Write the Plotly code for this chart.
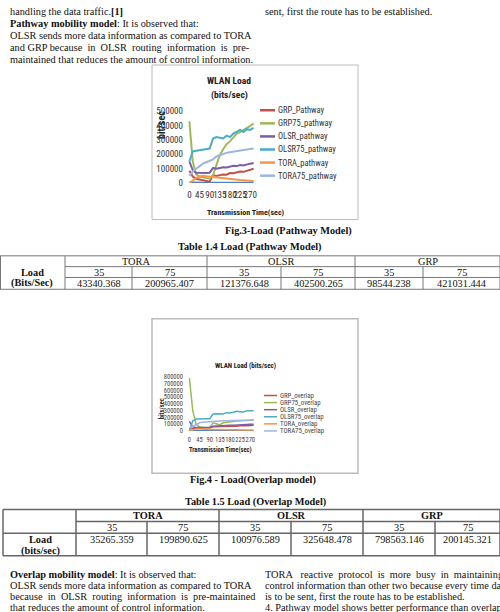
import plotly.graph_objects as go

W, H = 500, 612
def X(px): return px / W
def Y(py): return 1 - py / H

# ---------------- data ----------------
time_sec = [0, 15, 30, 45, 60, 75, 90, 105, 120, 135, 150, 165, 180, 195, 210, 225, 240, 255, 270, 285]
x_ticks = [0, 45, 90, 135, 180, 225, 270]

pathway_names = ["GRP_Pathway", "GRP75_pathway", "OLSR_pathway", "OLSR75_pathway", "TORA_pathway", "TORA75_pathway"]
grp_p = [85000, 45000, 30000, 25000, 20000, 15000, 10000, 55000, 50000, 55000, 60000, 58000, 70000, 68000, 75000, 80000, 78000, 85000, 88000, 100000]
grp75_p = [430000, 150000, 60000, 45000, 40000, 35000, 30000, 55000, 130000, 195000, 235000, 270000, 290000, 320000, 345000, 355000, 368000, 385000, 398000, 415000]
olsr_p = [150000, 90000, 72000, 70000, 70000, 70000, 72000, 105000, 100000, 105000, 110000, 108000, 115000, 120000, 118000, 125000, 122000, 130000, 135000, 140000]
olsr75_p = [150000, 220000, 225000, 230000, 235000, 235000, 240000, 310000, 320000, 315000, 310000, 330000, 320000, 345000, 360000, 370000, 355000, 375000, 370000, 385000]
tora_p = [0, 20000, 35000, 45000, 50000, 48000, 45000, 42000, 38000, 35000, 32000, 30000, 28000, 26000, 24000, 22000, 20000, 19000, 17000, 15000]
tora75_p = [50000, 80000, 100000, 120000, 135000, 145000, 155000, 165000, 185000, 195000, 205000, 210000, 215000, 220000, 225000, 228000, 230000, 233000, 236000, 240000]
base_p = [3000, 2000, 2500, 2000, 2500, 2000, 2000, 2500, 2000, 2000, 2500, 2000, 2000, 2500, 2000, 2000, 2500, 2000, 2000, 2000]

overlap_names = ["GRP_overlap", "GRP75_overlap", "OLSR_overlap", "OLSR75_overlap", "TORA_overlap", "TORA75_overlap"]
grp_o = [30000, 40000, 45000, 40000, 40000, 40000, 45000, 60000, 60000, 60000, 65000, 60000, 70000, 65000, 70000, 75000, 70000, 75000, 80000, 85000]
grp75_o = [780000, 300000, 100000, 60000, 50000, 50000, 45000, 120000, 110000, 90000, 120000, 130000, 135000, 140000, 145000, 150000, 150000, 155000, 160000, 160000]
olsr_o = [140000, 60000, 50000, 50000, 55000, 55000, 55000, 70000, 75000, 75000, 80000, 80000, 85000, 85000, 90000, 90000, 92000, 95000, 98000, 100000]
olsr75_o = [0, 150000, 175000, 180000, 180000, 180000, 180000, 250000, 255000, 250000, 250000, 270000, 265000, 275000, 290000, 285000, 280000, 300000, 295000, 300000]
tora_o = [0, 20000, 30000, 30000, 25000, 25000, 22000, 20000, 20000, 18000, 18000, 17000, 16000, 15000, 15000, 14000, 14000, 13000, 12000, 12000]
tora75_o = [40000, 70000, 100000, 120000, 130000, 135000, 140000, 140000, 145000, 145000, 150000, 150000, 150000, 155000, 155000, 155000, 160000, 160000, 160000, 165000]
base_o = [3000, 2000, 2500, 2000, 2500, 2000, 2000, 2500, 2000, 2000, 2500, 2000, 2000, 2500, 2000, 2000, 2500, 2000, 2000, 2000]

series_colors = ["#C0504D", "#9BBB59", "#7B5EA7", "#4BACC6", "#F79646", "#9EB5E0"]
base_color = "#4F81BD"

tbl_protocols = ["TORA", "OLSR", "GRP"]
tbl_nodes = ["35", "75", "35", "75", "35", "75"]
tbl1_vals = ["43340.368", "200965.407", "121376.648", "402500.265", "98544.238", "421031.444"]
tbl2_vals = ["35265.359", "199890.625", "100976.589", "325648.478", "798563.146", "200145.321"]

# ---------------- fonts ----------------
SERIF = "Liberation Serif, Times New Roman, serif"
NARROW = "Liberation Sans Narrow, Arial Narrow, Roboto Condensed, Liberation Sans, sans-serif"
BODY = 10.3

fig = go.Figure()

# chart 1 traces
fig.add_trace(go.Scatter(x=time_sec, y=base_p, mode="lines", line=dict(color=base_color, width=2),
                         showlegend=False, xaxis="x", yaxis="y"))
for name, vals, col in zip(pathway_names, [grp_p, grp75_p, olsr_p, olsr75_p, tora_p, tora75_p], series_colors):
    fig.add_trace(go.Scatter(x=time_sec, y=vals, name=name, mode="lines",
                             line=dict(color=col, width=2), showlegend=False, xaxis="x", yaxis="y"))
# chart 2 traces
fig.add_trace(go.Scatter(x=time_sec, y=base_o, mode="lines", line=dict(color=base_color, width=1.5),
                         showlegend=False, xaxis="x2", yaxis="y2"))
for name, vals, col in zip(overlap_names, [grp_o, grp75_o, olsr_o, olsr75_o, tora_o, tora75_o], series_colors):
    fig.add_trace(go.Scatter(x=time_sec, y=vals, name=name, mode="lines",
                             line=dict(color=col, width=1.5), showlegend=False, xaxis="x2", yaxis="y2"))

ann = []
shapes = []

def txt(x, y, s, size=BODY, family=SERIF, xanchor="left", color="#111", angle=0):
    ann.append(dict(x=X(x), y=Y(y), xref="paper", yref="paper", text=s, showarrow=False,
                    xanchor=xanchor, yanchor="middle", textangle=angle,
                    font=dict(family=family, size=size, color=color)))

def line(x0, y0, x1, y1, color="#777", width=1):
    shapes.append(dict(type="line", xref="paper", yref="paper", x0=X(x0), y0=Y(y0), x1=X(x1), y1=Y(y1),
                       line=dict(color=color, width=width)))

# ---------------- body text ----------------
txt(8, 7, "handling the data traffic.<b>[1]</b>")
txt(263, 7, "sent, first the route has to be established.")
txt(8, 19, "<b>Pathway mobility model</b>: It is observed that:")
txt(8, 31, "OLSR sends more data information as compared to TORA")
txt(8, 43, "and GRP because&nbsp; in&nbsp; OLSR&nbsp; routing&nbsp; information&nbsp; is&nbsp; pre-")
txt(8, 55, "maintained that reduces the amount of control information.")

# ---------------- chart 1 frame & text ----------------
shapes.append(dict(type="rect", xref="paper", yref="paper", x0=X(152), y0=Y(218), x1=X(358), y1=Y(61),
                   line=dict(color="#BBBBBB", width=1)))
txt(229, 77, "<b>WLAN Load</b>", size=9.5, family=NARROW, xanchor="center", color="#222")
txt(229, 91, "<b>(bits/sec)</b>", size=9.5, family=NARROW, xanchor="center", color="#222")
txt(161, 122, "<b>bit/sec</b>", size=10, family=NARROW, xanchor="center", color="#222", angle=-90)
txt(246, 211, "<b>Transmission Time(sec)</b>", size=8, family=NARROW, xanchor="center", color="#222")
for i, (name, col) in enumerate(zip(pathway_names, series_colors)):
    yy = 107 + i * 13.3
    line(260, yy, 275, yy, color=col, width=2.5)
    txt(276, yy, name, size=8.5, family=NARROW, color="#333")
txt(288, 230, "<b>Fig.3-Load (Pathway Model)</b>", xanchor="center")

# ---------------- table 1 ----------------
txt(250, 246, "<b>Table 1.4 Load (Pathway Model)</b>", xanchor="center")
T1 = dict(top=255, r1=266, r2=277, bot=289)
g1 = [65, 207, 355, 500]
s1 = [65, 132, 207, 281, 355, 423, 500]
line(0, T1["top"], 500, T1["top"])
line(65, T1["r1"], 500, T1["r1"])
line(65, T1["r2"], 500, T1["r2"])
line(0, T1["bot"], 500, T1["bot"])
line(0.5, T1["top"], 0.5, T1["bot"])
for gx in g1:
    line(gx, T1["top"], gx, T1["bot"])
for sx in [132, 281, 423]:
    line(sx, T1["r1"], sx, T1["bot"])
for i, p in enumerate(tbl_protocols):
    txt((g1[i] + g1[i + 1]) / 2, 260.5, p, xanchor="center")
for i in range(6):
    cx = (s1[i] + s1[i + 1]) / 2
    txt(cx, 272, tbl_nodes[i], xanchor="center")
    txt(cx, 283, tbl1_vals[i], xanchor="center")
txt(32, 272, "<b>Load</b>", xanchor="center")
txt(32, 283, "<b>(Bits/Sec)</b>", xanchor="center")

# ---------------- chart 2 frame & text ----------------
shapes.append(dict(type="rect", xref="paper", yref="paper", x0=X(152), y0=Y(476), x1=X(358), y1=Y(319),
                   line=dict(color="#BBBBBB", width=1.5)))
txt(245, 367, "<b>WLAN Load (bits/sec)</b>", size=7, family=NARROW, xanchor="center", color="#222")
txt(162, 411, "<b>bits/sec</b>", size=6.5, family=NARROW, xanchor="center", color="#333", angle=-90)
txt(220, 452, "<b>Transmission Time(sec)</b>", size=6.5, family=NARROW, xanchor="center", color="#222")
for i, (name, col) in enumerate(zip(overlap_names, series_colors)):
    yy = 397 + i * 7.2
    line(264, yy, 277, yy, color=col, width=1.5)
    txt(278, yy, name, size=6.8, family=NARROW, color="#444")
txt(253, 483, "<b>Fig.4 - Load(Overlap model)</b>", xanchor="center")

# ---------------- table 2 ----------------
txt(255, 505, "<b>Table 1.5 Load (Overlap Model)</b>", xanchor="center")
T2 = dict(top=513, r1=525, r2=537, bot=560)
g2 = [76, 219, 363, 500]
s2 = [76, 147, 219, 291, 363, 435, 500]
C2 = "#666"
line(3, T2["top"], 500, T2["top"], C2, 1.5)
line(76, T2["r1"], 500, T2["r1"], C2, 1.5)
line(3, T2["r2"], 500, T2["r2"], C2, 1.5)
line(3, T2["bot"], 500, T2["bot"], C2, 1.5)
line(3, T2["top"], 3, T2["bot"], C2, 1.5)
for gx in g2:
    line(gx, T2["top"], gx, T2["bot"], C2, 1.5)
for sx in [147, 291, 435]:
    line(sx, T2["r1"], sx, T2["bot"], C2, 1.5)
for i, p in enumerate(tbl_protocols):
    txt((g2[i] + g2[i + 1]) / 2, 519, "<b>" + p + "</b>", xanchor="center")
for i in range(6):
    cx = (s2[i] + s2[i + 1]) / 2
    txt(cx, 531, tbl_nodes[i], xanchor="center")
    txt(cx, 543, tbl2_vals[i], xanchor="center")
txt(40, 543, "<b>Load</b>", xanchor="center")
txt(40, 555, "<b>(bits/sec)</b>", xanchor="center")

# ---------------- bottom text ----------------
txt(8, 579, "<b>Overlap mobility model</b>: It is observed that:")
txt(8, 590, "OLSR sends more data information as compared to TORA")
txt(8, 601, "because&nbsp; in&nbsp; OLSR&nbsp; routing&nbsp; information&nbsp; is&nbsp; pre-maintained")
txt(8, 613, "that reduces the amount of control information.")
txt(263, 579, "TORA&nbsp;&nbsp; reactive&nbsp; protocol&nbsp; is&nbsp; more&nbsp; busy&nbsp; in&nbsp; maintaining")
txt(263, 590, "control information than other two because every time data")
txt(263, 601, "is to be sent, first the route has to be established.")
txt(263, 613, "4. Pathway model shows better performance than overlap")

tick_font1 = dict(family=NARROW, size=9, color="#333")
tick_font2 = dict(family=NARROW, size=6.5, color="#444")

fig.update_layout(
    width=W, height=H, margin=dict(l=0, r=0, t=0, b=0),
    paper_bgcolor="white", plot_bgcolor="rgba(0,0,0,0)",
    showlegend=False,
    annotations=ann, shapes=shapes,
    xaxis=dict(domain=[X(186), X(257)], range=[-15, 300], tickvals=x_ticks, tickangle=0,
               showgrid=False, zeroline=False, showline=False, tickfont=tick_font1,
               ticks="", ticklabelstandoff=5, anchor="y", fixedrange=True),
    yaxis=dict(domain=[Y(181), Y(108)], range=[0, 500000], dtick=100000, tickformat="d",
               showgrid=False, zeroline=False, showline=False, tickfont=tick_font1,
               ticks="", ticklabelstandoff=2, anchor="x", fixedrange=True),
    xaxis2=dict(domain=[X(186), X(257)], range=[-15, 300], tickvals=x_ticks, tickangle=0,
                showgrid=False, zeroline=False, showline=False, tickfont=tick_font2,
                ticks="", ticklabelstandoff=4, anchor="y2", fixedrange=True),
    yaxis2=dict(domain=[Y(433), Y(378)], range=[0, 800000], dtick=100000, tickformat="d",
                showgrid=False, zeroline=False, showline=False, tickfont=tick_font2,
                ticks="", ticklabelstandoff=2, anchor="x2", fixedrange=True),
)

fig.write_html("out.html")
